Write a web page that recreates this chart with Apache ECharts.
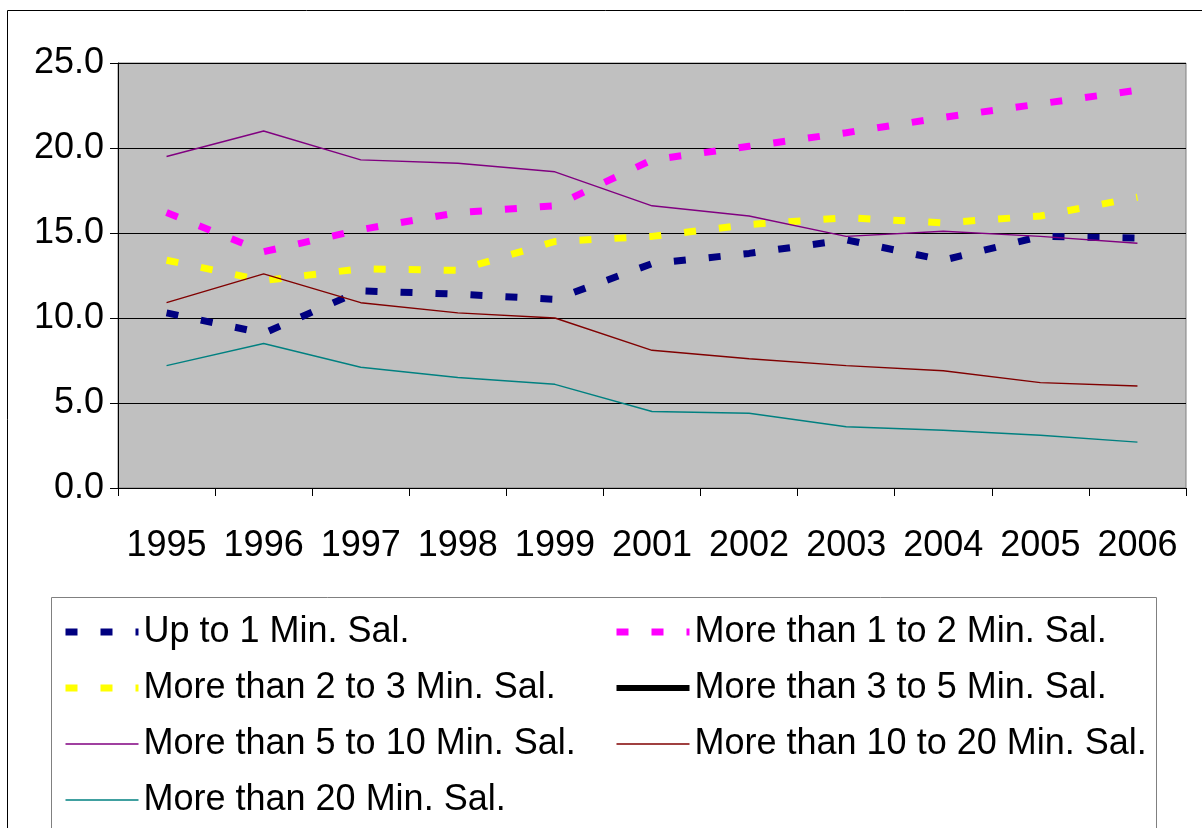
<!DOCTYPE html>
<html>
<head>
<meta charset="utf-8">
<script src="https://cdn.jsdelivr.net/npm/echarts@6/dist/echarts.min.js"></script>
<style>
  html, body { margin: 0; padding: 0; background: #fff; }
  #chart { width: 1202px; height: 828px; }
</style>
</head>
<body>
<div id="chart"></div>
<script>
const years = ["1995", "1996", "1997", "1998", "1999", "2001", "2002", "2003", "2004", "2005", "2006"];
const yTicks = [0, 5, 10, 15, 20, 25];

const upTo1 = [10.3, 9.1, 11.6, 11.4, 11.1, 13.2, 13.8, 14.6, 13.4, 14.8, 14.7];
const oneToTwo = [16.2, 13.9, 15.2, 16.2, 16.6, 19.3, 20.1, 20.9, 21.8, 22.6, 23.4];
const twoToThree = [13.4, 12.2, 12.9, 12.8, 14.5, 14.8, 15.5, 15.9, 15.6, 16.0, 17.1];
const threeToFive = [];
const fiveToTen = [19.5, 21.0, 19.3, 19.1, 18.6, 16.6, 16.0, 14.8, 15.1, 14.8, 14.4];
const tenToTwenty = [10.9, 12.6, 10.9, 10.3, 10.0, 8.1, 7.6, 7.2, 6.9, 6.2, 6.0];
const overTwenty = [7.2, 8.5, 7.1, 6.5, 6.1, 4.5, 4.4, 3.6, 3.4, 3.1, 2.7];

const names = [
  "Up to 1 Min. Sal.",
  "More than 1 to 2 Min. Sal.",
  "More than 2 to 3 Min. Sal.",
  "More than 3 to 5 Min. Sal.",
  "More than 5 to 10 Min. Sal.",
  "More than 10 to 20 Min. Sal.",
  "More than 20 Min. Sal."
];

const chart = echarts.init(document.getElementById("chart"));

const dashed = (color) => ({ color: color, width: 7, type: [12, 23], cap: "butt" });
const thin = (color, w) => ({ color: color, width: w || 1.4 });
const styles = [
  dashed("#000080"),
  dashed("#FF00FF"),
  dashed("#FFFF00"),
  thin("#000000", 6),
  thin("#800080"),
  thin("#800000"),
  thin("#008080")
];

const line = (i, data) => ({
  name: names[i],
  type: "line",
  data: data,
  symbol: "none",
  lineStyle: styles[i],
  itemStyle: { color: styles[i].color },
  animation: false
});

const legendItem = (i) => ({
  name: names[i],
  lineStyle: Object.assign({}, styles[i]),
  itemStyle: { opacity: 0 }
});

const legendText = { fontFamily: "Liberation Sans, Arial, sans-serif", fontSize: 36, color: "#000", lineHeight: 36 };

chart.setOption({
  animation: false,
  textStyle: { fontFamily: "Liberation Sans, Arial, sans-serif" },
  grid: {
    left: 118,
    right: 16,
    top: 63,
    bottom: 340,
    show: true,
    backgroundColor: "#C0C0C0",
    borderColor: "#808080",
    borderWidth: 1
  },
  xAxis: {
    type: "category",
    data: years,
    boundaryGap: true,
    axisLine: { lineStyle: { color: "#000", width: 1 } },
    axisTick: { show: true, length: 8, lineStyle: { color: "#000" } },
    axisLabel: { color: "#000", fontSize: 36, margin: 40, interval: 0, hideOverlap: false },
    splitLine: { show: false }
  },
  yAxis: {
    type: "value",
    min: yTicks[0],
    max: yTicks[yTicks.length - 1],
    interval: 5,
    axisLine: { show: true, lineStyle: { color: "#000", width: 1 } },
    axisTick: { show: true, length: 8, lineStyle: { color: "#000" } },
    axisLabel: {
      color: "#000",
      fontSize: 36,
      margin: 14,
      formatter: (v) => v.toFixed(1)
    },
    splitLine: { lineStyle: { color: "#000", width: 1 } }
  },
  legend: [
    {
      data: [0, 2, 4, 6].map(legendItem),
      orient: "vertical",
      left: 57,
      top: 609,
      itemWidth: 73,
      itemHeight: 14,
      itemGap: 20,
      textStyle: legendText,
      selectedMode: false
    },
    {
      data: [1, 3, 5].map(legendItem),
      orient: "vertical",
      left: 608,
      top: 609,
      itemWidth: 73,
      itemHeight: 14,
      itemGap: 20,
      textStyle: legendText,
      selectedMode: false
    }
  ],
  series: [
    line(0, upTo1),
    line(1, oneToTwo),
    line(2, twoToThree),
    line(3, threeToFive),
    line(4, fiveToTen),
    line(5, tenToTwenty),
    line(6, overTwenty)
  ],
  graphic: [
    {
      type: "rect",
      silent: true,
      z: -10,
      shape: { x: 7.5, y: 10.5, width: 1210, height: 840 },
      style: { fill: null, stroke: "#000", lineWidth: 1 }
    },
    {
      type: "rect",
      silent: true,
      z: -10,
      shape: { x: 51.5, y: 597.5, width: 1105, height: 260 },
      style: { fill: null, stroke: "#808080", lineWidth: 1 }
    }
  ]
});
</script>
</body>
</html>
